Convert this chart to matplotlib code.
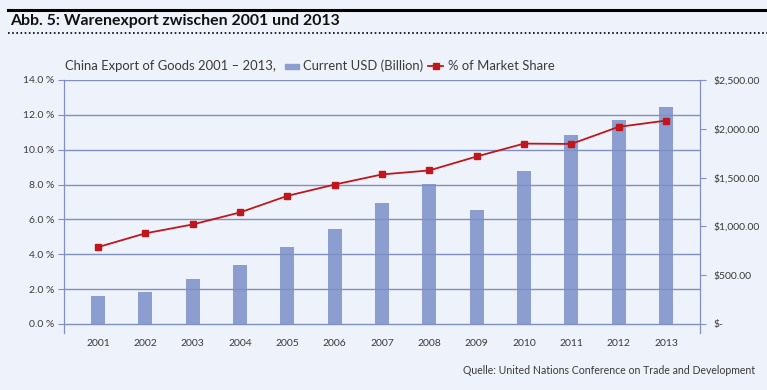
import matplotlib.pyplot as plt
from matplotlib.lines import Line2D
from matplotlib.patches import Rectangle

years = ['2001', '2002', '2003', '2004', '2005', '2006', '2007',
         '2008', '2009', '2010', '2011', '2012', '2013']
export_usd = [290, 331, 464, 607, 791, 975, 1241, 1432, 1170, 1569, 1937, 2091, 2224]
market_share = [4.41, 5.20, 5.71, 6.40, 7.35, 8.00, 8.58, 8.81, 9.61, 10.35, 10.33, 11.31, 11.67]

bg = '#eef2fa'
grid_col = '#7f8fc0'
bar_col = '#8c9ecf'
red = '#c0171c'
txt = '#3a3a3a'

plt.rcParams['font.family'] = ['Lato', 'DejaVu Sans']

fig = plt.figure(figsize=(7.67, 3.90), dpi=100, facecolor=bg)
ax = fig.add_axes([64 / 767, 1 - 333 / 390, 636 / 767, 253 / 390])
ax.set_facecolor(bg)
ax2 = ax.twinx()

x = range(len(years))
# bars on the $ axis
ax2.bar(x, export_usd, width=0.30, color=bar_col, zorder=2)
ax2.set_ylim(-0.52 / 14 * 2500, 2500)
ax2.set_yticks([0, 500, 1000, 1500, 2000, 2500])
ax2.set_yticklabels(['$-', '$500.00', '$1,000.00', '$1,500.00', '$2,000.00', '$2,500.00'])

ax.set_ylim(-0.52, 14)
ax.set_yticks([0, 2, 4, 6, 8, 10, 12, 14])
ax.set_yticklabels(['%.1f %%' % v for v in [0, 2, 4, 6, 8, 10, 12, 14]])
for v in [0, 2, 4, 6, 8, 10, 12, 14]:
    ax.axhline(v, color=grid_col, lw=1, zorder=0)

ax.set_xlim(-0.72, 12.72)
ax.set_xticks(list(x))
ax.set_xticklabels(years)

# line on top of the bars
ax.set_zorder(ax2.get_zorder() + 1)
ax.patch.set_visible(False)
ax2.patch.set_facecolor(bg)
ax.plot(x, market_share, color=red, lw=1.3, marker='s', markersize=5, zorder=3)

for a in (ax, ax2):
    for s in ['top', 'bottom']:
        a.spines[s].set_visible(False)
    a.spines['left'].set_color(grid_col)
    a.spines['right'].set_color(grid_col)
    a.tick_params(colors=grid_col, labelcolor=txt, labelsize=7.5, length=4)
ax.tick_params(axis='x', length=0, pad=4)
ax.tick_params(axis='y', pad=3)
ax2.tick_params(axis='y', pad=6)

# header
fig.add_artist(Line2D([8 / 767, 1], [1 - 10 / 390] * 2, color='black', lw=2.2))
fig.add_artist(Line2D([8 / 767, 1], [1 - 33 / 390] * 2, color='black', lw=1.2, ls=(0, (1, 1.5))))
fig.text(10 / 767, 1 - 21 / 390, 'Abb. 5: Warenexport zwischen 2001 und 2013',
         fontsize=11.4, fontweight='bold', color='#111111', va='center')

# legend line, pieces placed one after another
ly = 1 - 66 / 390
renderer = fig.canvas.get_renderer()


def right_edge(t):
    bb = t.get_window_extent(renderer)
    return bb.x1


t1 = fig.text(65 / 767, ly, 'China Export of Goods 2001 \u2013 2013,', fontsize=9.4, color=txt, va='center')
px = right_edge(t1) + 9
fig.add_artist(Rectangle((px / 767, ly - 2.5 / 390), 14 / 767, 5 / 390, color=bar_col))
t2 = fig.text((px + 18) / 767, ly, 'Current USD (Billion)', fontsize=9.4, color=txt, va='center')
px = right_edge(t2) + 5
fig.add_artist(Line2D([px / 767, (px + 15) / 767], [ly, ly], color=red, lw=1.3))
fig.add_artist(Line2D([(px + 7.5) / 767], [ly], color=red, marker='s', markersize=5, lw=0))
fig.text((px + 20) / 767, ly, '% of Market Share', fontsize=9.4, color=txt, va='center')

fig.text(755 / 767, 1 - 370 / 390, 'Quelle: United Nations Conference on Trade and Development',
         fontsize=7.6, color=txt, ha='right', va='center')

fig.savefig('out.png', dpi=100, facecolor=bg)
